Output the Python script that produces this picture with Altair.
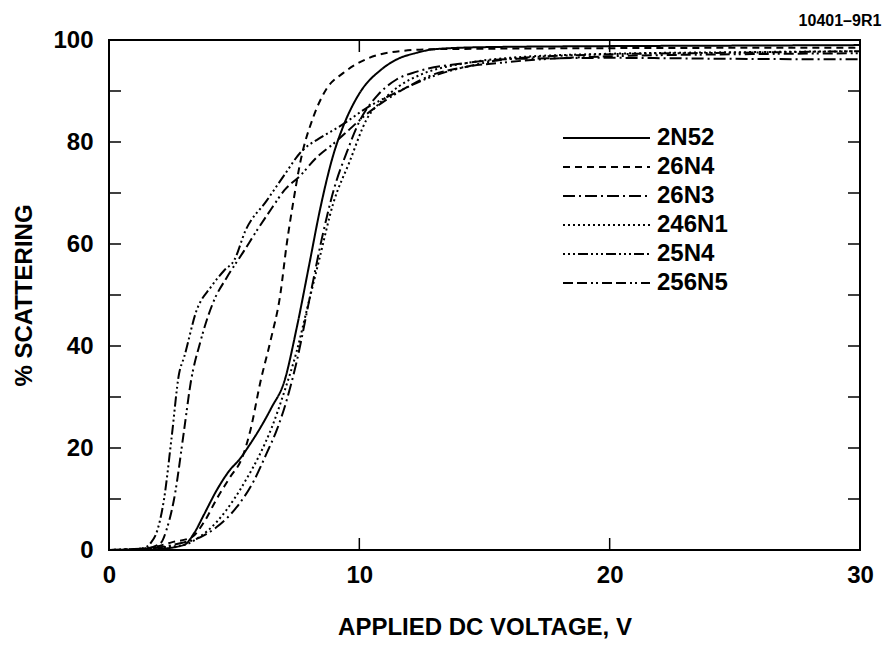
import altair as alt
import pandas as pd

# ---- data ----
series_names = ["2N52", "26N4", "26N3", "246N1", "25N4", "256N5"]

v_2N52 = [0, 1, 2, 3, 3.4, 3.8, 4.3, 4.8, 5.25, 5.6, 6.05, 6.5, 7, 7.5, 8, 8.44, 8.95, 9.35, 10, 10.9, 11.5, 12.3, 13, 15, 20, 25, 30]
p_2N52 = [0, 0, 0.2, 1, 3.3, 7, 11.7, 15.5, 18, 20.5, 24, 28, 33, 43.6, 56, 67, 77.3, 83, 89.5, 94.3, 96.2, 97.5, 98.2, 98.6, 98.8, 98.9, 99]

v_26N4 = [0, 1.5, 2.5, 3.3, 3.8, 4.3, 4.8, 5.35, 5.65, 6.05, 6.45, 6.84, 7.1, 7.37, 7.64, 8.17, 8.7, 9.35, 10.3, 11.6, 13, 20, 30]
p_26N4 = [0, 0.3, 1.5, 2.5, 5.5, 10, 14, 18.5, 23.5, 33, 41, 50, 60, 68.5, 76, 85, 90.5, 93.5, 96.3, 97.8, 98.2, 98.4, 98.5]

v_26N3 = [0, 1, 2, 3, 3.4, 4.3, 5.1, 5.8, 6.3, 6.7, 7.1, 7.5, 8, 8.5, 9, 9.5, 10, 10.7, 11.5, 12.3, 14.3, 16.3, 20, 25, 30]
p_26N3 = [0, 0.2, 0.5, 1.5, 2, 4.5, 8.4, 13.7, 19, 23.5, 29.4, 37, 49, 61, 71, 78, 84, 89, 92.3, 93.8, 95.5, 96.3, 96.5, 96.3, 96.2]

v_246N1 = [0, 1, 2, 3, 3.6, 4.3, 5, 5.5, 6, 6.5, 7, 7.5, 7.9, 8.4, 8.96, 9.6, 10.3, 11, 11.6, 12.5, 14.3, 16, 20, 25, 30]
p_246N1 = [0, 0.2, 0.5, 1, 2.5, 5.5, 10, 14, 18.5, 24, 31, 39, 47, 57, 68, 76, 84.5, 88.5, 91, 93.3, 95.5, 96.5, 97.3, 97.6, 97.8]

v_25N4 = [0, 1, 1.4, 1.67, 1.94, 2.2, 2.5, 2.8, 3.0, 3.5, 4.06, 4.6, 5.0, 5.45, 6.3, 7.0, 7.64, 8.5, 9.2, 10.3, 11.6, 13, 14.5, 16, 20, 25, 30]
p_25N4 = [0, 0.1, 0.4, 1.4, 4, 10, 22, 34.6, 37.8, 47, 51.5, 54.8, 56.8, 62.6, 68.5, 73.5, 77.9, 81, 83, 86.7, 90, 93, 95, 96.3, 97.2, 97.5, 97.8]

v_256N5 = [0, 1, 1.5, 2.07, 2.3, 2.6, 3.0, 3.26, 3.66, 4.2, 4.7, 5.4, 5.9, 6.5, 7.0, 7.64, 8.3, 8.95, 9.5, 10.3, 11, 12, 13, 14, 16, 20, 25, 30]
p_256N5 = [0, 0.1, 0.3, 1.4, 4, 10, 23.5, 32.7, 41, 49, 53.4, 58.7, 62.6, 67, 70.5, 73.4, 77, 79.6, 82, 85.5, 88, 91, 93.3, 94.5, 95.7, 96.8, 97.2, 97.4]

x_ticks = [10, 20]
y_ticks = [10, 20, 30, 40, 50, 60, 70, 80, 90]
x_labels = [0, 10, 20, 30]
y_labels = [0, 20, 40, 60, 80, 100]

# ---- table ----
curves = {
    "2N52": (v_2N52, p_2N52),
    "26N4": (v_26N4, p_26N4),
    "26N3": (v_26N3, p_26N3),
    "246N1": (v_246N1, p_246N1),
    "25N4": (v_25N4, p_25N4),
    "256N5": (v_256N5, p_256N5),
}
rows = []
for name in series_names:
    vs, ps = curves[name]
    for i, (v, p) in enumerate(zip(vs, ps)):
        rows.append({"series": name, "v": v, "p": p, "order": i})
df = pd.DataFrame(rows)

dashes = [[1, 0], [7, 5], [12, 4, 2, 4], [2, 3], [2, 3, 2, 3, 2, 3, 10, 3], [10, 4, 10, 4, 2, 3, 2, 4]]

W, H = 751, 510
TL = 12
FONT = "Liberation Sans"

xscale = alt.Scale(domain=[0, 30], nice=False)
yscale = alt.Scale(domain=[0, 100], nice=False)
xaxis = alt.Axis(values=x_labels, ticks=False, domain=False, grid=False, labelFlush=False,
                 title="APPLIED DC VOLTAGE, V", labelPadding=13, titlePadding=28)
yaxis = alt.Axis(values=y_labels, ticks=False, domain=False, grid=False, labelFlush=False,
                 title="% SCATTERING", labelPadding=16, titlePadding=16)

lines = alt.Chart(df).mark_line(color="black", strokeWidth=2, interpolate="monotone").encode(
    x=alt.X("v:Q", scale=xscale, axis=xaxis),
    y=alt.Y("p:Q", scale=yscale, axis=yaxis),
    order="order:Q",
    strokeDash=alt.StrokeDash(
        "series:N",
        scale=alt.Scale(domain=series_names, range=dashes),
        sort=series_names,
        legend=alt.Legend(
            orient="none", legendX=452, legendY=86, title=None,
            symbolType="M-1,0H7.7", symbolSize=400, symbolStrokeWidth=2,
            symbolStrokeColor="black", symbolFillColor="transparent",
            labelFont=FONT, labelFontSize=24, labelFontWeight="bold", labelColor="black",
            labelOffset=72, rowPadding=5, padding=0,
        ),
    ),
)

ydf = pd.DataFrame({"p": y_ticks})
xdf = pd.DataFrame({"v": x_ticks})
tick_style = dict(color="black", strokeWidth=1.5)

left_ticks = alt.Chart(ydf).mark_rule(**tick_style).encode(
    y=alt.Y("p:Q", scale=yscale, axis=yaxis), x=alt.value(0), x2=alt.value(TL))
right_ticks = alt.Chart(ydf).mark_rule(**tick_style).encode(
    y=alt.Y("p:Q", scale=yscale, axis=yaxis), x=alt.value(W - TL), x2=alt.value(W))
bottom_ticks = alt.Chart(xdf).mark_rule(**tick_style).encode(
    x=alt.X("v:Q", scale=xscale, axis=xaxis), y=alt.value(H), y2=alt.value(H - TL))
top_ticks = alt.Chart(xdf).mark_rule(**tick_style).encode(
    x=alt.X("v:Q", scale=xscale, axis=xaxis), y=alt.value(0), y2=alt.value(TL))

chart = alt.layer(lines, left_ticks, right_ticks, bottom_ticks, top_ticks).properties(
    width=W, height=H,
    title=alt.TitleParams("10401\u20139R1", anchor="end", fontSize=16, font=FONT,
                          fontWeight="bold", color="black", dx=8, offset=-1),
    autosize=alt.AutoSizeParams(type="none"),
    padding={"left": 101, "top": 32, "right": 23, "bottom": 92},
).configure_view(
    stroke="black", strokeWidth=2
).configure_axis(
    labelFont=FONT, labelFontSize=24, labelFontWeight="bold", labelColor="black",
    titleFont=FONT, titleFontSize=24, titleFontWeight="bold", titleColor="black",
)

chart.save("out.html", embed_options={"renderer": "svg", "actions": False})
